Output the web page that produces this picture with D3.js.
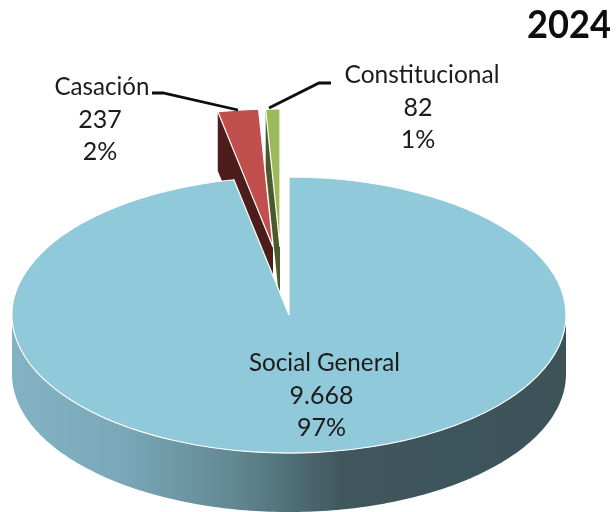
<!DOCTYPE html>
<html><head><meta charset="utf-8">
<script src="https://cdn.jsdelivr.net/npm/d3@7"></script>
<style>html,body{margin:0;padding:0;background:#fff}svg{display:block}text{font-family:Lato,"Open Sans",sans-serif;fill:#1a1a1a}</style>
</head><body><svg id="c" width="616" height="512"></svg>
<script>
(function(){
const categories = ["Social General","Casación","Constitucional"];
const values = [9668,237,82];
const valueLabels = ["9.668","237","82"];
const percentLabels = ["97%","2%","1%"];
const title = "2024";
const topColors = ["#90c9d9","#c0504d","#9bbb59"];
const sideColors = ["#3d5359","#4f1f1d","#4b5a2b"];

const cx=289,cy=315,rx=277,ry=138,depth=59;
const explodeX=[0,-16,-9], explodeY=[0,-68,-68];
const svg=d3.select("#c");
const defs=svg.append("defs");
const g=defs.append("linearGradient").attr("id","wall").attr("gradientUnits","userSpaceOnUse")
  .attr("x1",cx-rx).attr("x2",cx+rx).attr("y1",0).attr("y2",0);
[[0,"#82b3c4"],[.2,"#79a8b8"],[.4,"#628893"],[.6,"#3f565d"],[1,"#3d5359"]].forEach(s=>g.append("stop").attr("offset",s[0]).attr("stop-color",s[1]));
defs.append("filter").attr("id","soft").append("feGaussianBlur").attr("stdDeviation",0.3);

const pie=d3.pie().sort(null).startAngle(0).endAngle(2*Math.PI)(values);
const arc=d3.arc().innerRadius(0).outerRadius(1);
const px=(a,i)=>cx+explodeX[i]+rx*Math.sin(a);
const py=(a,i)=>cy+explodeY[i]-ry*Math.cos(a);
const line=d3.line();
const root=svg.append("g").attr("filter","url(#soft)");

function face(i){
  root.append("path").attr("d",arc(pie[i]))
    .attr("transform",`translate(${cx+explodeX[i]},${cy+explodeY[i]}) scale(${rx},${ry})`)
    .attr("fill",topColors[i]).attr("stroke","#fff").attr("stroke-width",1.2).attr("vector-effect","non-scaling-stroke");
}
function side(i){
  const a=pie[i].startAngle, ax=cx+explodeX[i], ay=cy+explodeY[i];
  const ox=px(a,i), oy=py(a,i);
  root.append("path").attr("d",line([[ox,oy],[ox,oy+depth],[ax,ay+depth],[ax,ay]])+"Z").attr("fill",sideColors[i]);
}
[1,2].forEach(i=>{side(i);face(i);});

// wall of the main slice
const angles=d3.range(90,270.5,1).map(d=>d*Math.PI/180);
root.append("path").attr("d",d3.area().x(a=>px(a,0)).y0(a=>py(a,0)).y1(a=>py(a,0)+depth)(angles)).attr("fill","url(#wall)");
face(0);

// leaders
const leaders=[[[152,93],[163,93],[238,110]],[[331,83],[319,83],[269,108]]];
leaders.forEach(l=>root.append("path").attr("d",line(l)).attr("fill","none").attr("stroke","#0a0a0a").attr("stroke-width",2.8));

const lab=[{x:324.5,y:371},{x:102,y:95},{x:422,y:83}];
const numberShift=[-3,-2,-4];
const widths=[151,95,155];
categories.forEach((c,i)=>{
  [c,valueLabels[i],percentLabels[i]].forEach((s,k)=>{
    const e=root.append("text").attr("x",lab[i].x+(k?numberShift[i]:0)).attr("y",lab[i].y+k*32.7).attr("text-anchor","middle").attr("font-size",25).text(s);
    if(k===0) e.attr("textLength",widths[i]).attr("lengthAdjust","spacingAndGlyphs");
  });
});
root.append("text").attr("x",569).attr("y",38).attr("text-anchor","middle").attr("font-size",39).attr("font-weight",700).attr("textLength",84).attr("lengthAdjust","spacingAndGlyphs").style("fill","#0a0a0a").text(title);
})();
</script></body></html>
